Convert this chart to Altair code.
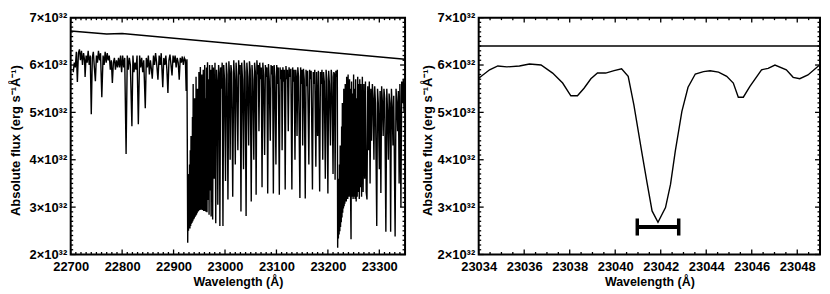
import altair as alt
import pandas as pd

# ---------------- data (flux in units of 1e32 erg s^-1 A^-1) ----------------
cont_left = [(22700, 6.72), (22770, 6.655), (22800, 6.666), (23350, 6.12)]

seg_pre_bandhead = [
    (22705, 5.85), (22707, 6.05), (22709, 5.95), (22711, 6.28), (22713, 5.64), (22715, 6.25),
    (22717, 6.33), (22719, 6.1), (22721, 6.3), (22723, 6.0), (22725, 6.25), (22727, 6.1),
    (22728, 5.75), (22730, 6.2), (22732, 6.05), (22734, 6.3), (22736, 6.0), (22738, 6.2),
    (22740, 4.96), (22742, 6.15), (22744, 6.28), (22746, 5.95), (22748, 5.66), (22750, 6.2),
    (22752, 6.05), (22754, 6.3), (22756, 6.1), (22758, 6.25), (22760.5, 5.32), (22763, 6.2),
    (22765, 6.0), (22767, 6.28), (22769, 6.05), (22771, 6.25), (22773, 6.1), (22775, 6.2),
    (22777, 5.9), (22779, 6.1), (22781, 5.62), (22783, 6.05), (22785, 6.15), (22787, 5.9),
    (22789, 6.1), (22791, 5.95), (22793, 6.15), (22795, 5.95), (22797, 6.2), (22799, 5.85),
    (22801, 6.2), (22803, 5.95), (22805, 6.15), (22807.7, 4.12), (22810, 6.2), (22812, 5.9),
    (22814, 6.15), (22816, 6.0), (22819, 4.71), (22821, 6.2), (22823, 5.85), (22825, 6.05),
    (22827, 5.9), (22829, 6.2), (22831.5, 4.75), (22834, 6.2), (22836, 5.95), (22838, 6.15),
    (22840, 5.85), (22842, 6.1), (22845, 5.09), (22847, 6.15), (22849, 5.95), (22851, 6.2),
    (22853, 5.8), (22855, 6.1), (22857, 5.9), (22858.6, 5.71), (22861, 6.2), (22863, 6.0),
    (22865, 6.25), (22867, 6.05), (22869.6, 5.69), (22872, 6.2), (22874, 6.0), (22876, 6.25),
    (22879, 5.53), (22881, 6.15), (22883, 6.0), (22885, 6.2), (22887, 5.9), (22889, 5.41),
    (22891, 6.1), (22893, 6.22), (22895, 6.0), (22897, 5.78), (22899, 6.2), (22901, 6.05),
    (22903, 6.2), (22905, 5.95), (22907, 6.15), (22909, 6.05), (22911, 5.69), (22913, 6.15),
    (22915, 6.05), (22917, 6.18), (22919, 6.0), (22921, 6.15), (22923, 6.1), (22924.5, 5.45),
    (22926, 6.12),
]

seg_band_one = [
    (22927.5, 2.25), (22928.3, 3.4), (22929, 2.5), (22929.7, 3.7), (22930.4, 2.55),
    (22931.1, 3.9), (22931.8, 2.55), (22932.5, 4.2), (22933.2, 2.6), (22933.9, 4.5),
    (22934.6, 2.65), (22935.3, 4.1), (22936, 2.67), (22936.7, 4.9), (22937.4, 2.7),
    (22938.1, 5.6), (22938.8, 2.74), (22939.5, 4.6), (22940.2, 2.76), (22940.9, 5.3),
    (22941.6, 2.79), (22942.3, 4.8), (22943, 2.82), (22943.7, 5.75), (22944.4, 2.84),
    (22945.1, 5.0), (22945.8, 2.87), (22946.5, 5.5), (22947.2, 2.9), (22947.9, 4.7),
    (22948.6, 2.92), (22949.3, 5.85), (22950, 2.94), (22950.7, 5.2), (22951.4, 2.94),
    (22952.1, 5.96), (22952.8, 2.95), (22953.5, 5.4), (22954.2, 2.95), (22954.9, 5.8),
    (22955.6, 2.94), (22956.3, 5.1), (22957, 2.94), (22957.7, 5.9), (22958.4, 2.92),
    (22959.1, 5.5), (22959.8, 2.93), (22960.5, 6.0), (22961.2, 2.92), (22962, 5.3),
    (22963, 2.9), (22964, 5.95), (22965, 2.89), (22966, 6.06), (22967, 3.15), (22968, 5.7),
    (22969, 2.84), (22970, 6.0), (22971, 3.35), (22972, 5.9), (22973, 2.8), (22974, 5.6),
    (22975, 6.0), (22976, 2.74), (22977.5, 5.95), (22979, 3.6), (22980.5, 6.05),
    (22982, 2.66), (22983.5, 5.9), (22985, 5.6), (22986, 3.05), (22987.5, 6.0), (22989, 5.8),
    (22990, 2.6), (22991.5, 5.95), (22993, 5.5), (22994.5, 6.05), (22996, 2.6),
    (22997.5, 6.0), (22999, 5.7), (23001, 3.55), (23002.5, 6.05), (23004, 5.8),
    (23005.7, 3.16), (23007.5, 6.08), (23009, 5.75), (23010, 4.0), (23011.5, 6.0),
    (23013, 5.85),
]

seg_line_forest = [
    (23015, 3.22), (23017, 6.1), (23018.5, 5.7), (23020, 3.9), (23021.5, 6.05), (23023, 5.75),
    (23025, 4.2), (23026.5, 6.1), (23028, 5.8), (23029.5, 6.0), (23031, 2.91), (23032.5, 6.05),
    (23034, 5.7), (23036, 3.8), (23037.5, 6.1), (23039, 5.85), (23041, 2.81), (23042.5, 6.05),
    (23044, 5.75), (23046, 4.3), (23047.5, 6.08), (23049, 5.9), (23051, 3.12), (23052.5, 6.0),
    (23054, 5.7), (23056, 4.0), (23057.5, 6.05), (23059, 5.85), (23060.5, 3.26), (23062, 6.1),
    (23063.5, 5.8), (23064.8, 6.0), (23066, 4.6), (23067.5, 6.05), (23069, 5.7), (23070.5, 5.95),
    (23072, 3.42), (23073.5, 6.05), (23075, 5.8), (23077, 4.1), (23078.5, 6.0), (23080, 5.75),
    (23081.5, 5.95), (23083, 3.29), (23084.5, 6.02), (23086, 5.7), (23088, 4.4), (23089.5, 6.0),
    (23091, 5.8), (23092.5, 5.98), (23094, 3.29), (23095.5, 6.0), (23097, 5.75), (23099, 3.9),
    (23100.5, 6.0), (23102, 5.6), (23103.5, 5.95), (23105.6, 3.26), (23107, 5.95),
    (23108.5, 5.7), (23110, 5.9), (23111, 4.2), (23112.5, 5.95), (23114, 5.65), (23115.5, 5.9),
    (23117, 3.37), (23118.5, 5.98), (23120, 5.7), (23121.5, 5.9), (23123, 4.6), (23124.5, 5.95),
    (23126, 5.75), (23128, 5.92), (23130, 3.37), (23131.5, 5.95), (23133, 5.65), (23134.5, 5.9),
    (23136, 4.0), (23137.5, 5.9), (23139, 5.7), (23140, 4.5), (23141.5, 5.95), (23143, 5.75),
    (23145.6, 3.19), (23147, 5.95), (23148.5, 5.6), (23150, 5.9), (23151, 4.3), (23152.5, 5.92),
    (23154, 5.7), (23156, 3.18), (23157.5, 5.9), (23159, 5.55), (23160.5, 5.88), (23163, 3.9),
    (23164.5, 5.9), (23166, 5.7), (23167.5, 5.88), (23170, 3.37), (23171.5, 5.85), (23173, 5.6),
    (23174.5, 5.9), (23176.6, 3.85), (23178, 5.85), (23180, 4.5), (23181.5, 5.88), (23184, 3.33),
    (23185.5, 5.85), (23187, 5.6), (23188.5, 5.9), (23190, 4.0), (23191.5, 5.85), (23193, 5.65),
    (23195, 3.6), (23196.5, 5.9), (23198, 5.7), (23200, 3.29), (23201.5, 5.88), (23203, 5.6),
    (23205, 4.3), (23206.5, 5.9), (23208, 5.75), (23210, 3.7), (23211.5, 5.85), (23213, 5.8),
    (23214, 3.58), (23215.5, 5.88), (23217, 5.75), (23218.3, 5.9),
]

seg_band_two = [
    (23219, 2.14), (23219.7, 3.3), (23220.4, 2.34), (23221.1, 3.6), (23221.8, 2.42),
    (23222.5, 3.9), (23223.2, 2.49), (23223.9, 4.3), (23224.6, 2.58), (23225.3, 4.0),
    (23226, 2.68), (23226.7, 4.7), (23227.4, 2.78), (23228.1, 5.2), (23228.8, 2.88),
    (23229.5, 4.5), (23230.2, 2.97), (23230.9, 5.5), (23231.6, 3.02), (23232.3, 4.8),
    (23233, 3.07), (23233.7, 5.6), (23234.4, 3.12), (23235.1, 5.0), (23235.8, 3.12),
    (23236.5, 5.75), (23237.2, 3.17), (23237.9, 5.2), (23238.6, 3.17), (23239.3, 5.8),
    (23240, 3.22), (23240.7, 5.3), (23241.4, 3.22), (23242.1, 5.7), (23242.8, 3.27),
    (23243.5, 5.5), (23244.2, 3.12), (23245, 2.32), (23246, 5.65), (23247, 3.22), (23248, 5.4),
    (23249, 3.17), (23250, 5.8), (23251, 3.22), (23252, 5.5), (23253, 3.17), (23254, 5.7),
    (23255, 3.12), (23256, 5.3), (23257, 3.22), (23258, 5.75), (23259, 3.32), (23260, 5.6),
    (23261, 3.17), (23262, 5.7), (23263, 3.42), (23264, 5.6), (23265.5, 3.22), (23267, 5.75),
    (23268.5, 3.32), (23270, 5.6), (23271.5, 3.6), (23273, 5.65), (23274.5, 3.32),
    (23276, 3.16), (23277.5, 5.55), (23279, 4.2), (23280.5, 5.65), (23282, 3.5),
    (23283.5, 5.5), (23285, 4.4), (23286.5, 5.6), (23288, 5.3), (23289.5, 4.0), (23291, 5.55),
    (23292.5, 5.2), (23295, 2.6), (23296.5, 5.5), (23298, 5.2), (23300, 3.8), (23301.5, 5.45),
    (23303, 3.3), (23304.5, 5.55), (23306, 5.2), (23307.5, 4.5), (23309, 5.5), (23310.5, 5.3),
    (23312.7, 2.48), (23314.5, 5.5), (23316, 5.0), (23317.5, 4.0), (23319, 5.4), (23320.5, 5.2),
    (23322, 2.48), (23323.5, 5.5), (23325, 5.1), (23326.5, 4.3), (23328, 5.35), (23330.7, 2.38),
    (23332.5, 5.5), (23334, 5.2), (23335.5, 4.6), (23337, 5.45), (23338.5, 3.5), (23340, 5.6),
    (23342, 3.0), (23343.5, 5.65), (23345, 5.2), (23346.5, 5.7), (23348, 5.0), (23349, 5.6),
    (23351, 5.5),
]

# right panel (zoom on one line)
cont_right = [(23034, 6.40), (23049, 6.40)]
spec_right = [
    (23034.0, 5.72), (23034.48, 5.90), (23034.84, 5.98), (23035.24, 5.96), (23035.79, 5.98),
    (23036.23, 6.02), (23036.74, 6.00), (23037.25, 5.83), (23037.69, 5.62), (23038.05, 5.35),
    (23038.34, 5.35), (23038.63, 5.51), (23038.93, 5.71), (23039.22, 5.83), (23039.58, 5.83),
    (23039.95, 5.88), (23040.28, 5.92), (23040.57, 5.76), (23040.82, 5.16), (23041.16, 4.18),
    (23041.40, 3.51), (23041.62, 2.92), (23041.88, 2.68), (23042.21, 2.99), (23042.43, 3.48),
    (23042.64, 4.18), (23042.93, 5.02), (23043.20, 5.53), (23043.52, 5.81), (23043.88, 5.86),
    (23044.17, 5.88), (23044.54, 5.85), (23044.90, 5.76), (23045.19, 5.62), (23045.41, 5.32),
    (23045.63, 5.32), (23045.92, 5.55), (23046.43, 5.90), (23046.72, 5.93), (23047.02, 6.00),
    (23047.52, 5.90), (23047.82, 5.74), (23048.11, 5.71), (23048.47, 5.79), (23048.98, 6.00),
    (23049.2, 6.05),
]
errbar_center = 23041.88
errbar_halfwidth = 0.91
errbar_flux = 2.58
errbar_cap_half = 0.18

# tick values
left_x_major = [22700, 22800, 22900, 23000, 23100, 23200, 23300]
left_x_minor = [22700 + 10 * i for i in range(66) if i % 10 != 0]
right_x_major = [23034, 23036, 23038, 23040, 23042, 23044, 23046, 23048]
right_x_minor = [23034 + 0.5 * i for i in range(31) if i % 4 != 0]
y_major = [2, 3, 4, 5, 6, 7]
y_minor = [round(2 + 0.1 * i, 2) for i in range(51) if i % 10 != 0]

H = 238
W_LEFT = 336
W_RIGHT = 343
FONT = "Liberation Sans"
MAJ, MIN = 5, 2.5


def make_panel(xdomain, W, xmaj, xmin, segments, cont, title_x):
    xscale = alt.Scale(domain=xdomain, nice=False, zero=False)
    yscale = alt.Scale(domain=[2, 7], nice=False, zero=False)
    xaxis = alt.Axis(values=xmaj, ticks=False, tickSize=0, domain=False, grid=False,
                     format="d", labelFont=FONT, labelFontSize=13, labelFontWeight="bold",
                     labelColor="black", labelPadding=6, labelFlush=False,
                     title="Wavelength (Å)", titleFont=FONT, titleFontSize=12.5,
                     titleFontWeight="bold", titleColor="black", titlePadding=2)
    yaxis = alt.Axis(values=y_major, ticks=False, tickSize=0, domain=False, grid=False,
                     labelExpr="datum.value + '×10³²'", labelFont=FONT, labelFontSize=13,
                     labelFontWeight="bold", labelColor="black", labelPadding=4,
                     labelFlush=False,
                     title="Absolute flux (erg s⁻¹Å⁻¹)", titleFont=FONT, titleFontSize=13,
                     titleFontWeight="bold", titleColor="black", titleX=title_x,
                     titleY=H / 2 + 4)

    def X(f):
        return alt.X(f, type="quantitative", scale=xscale, axis=xaxis)

    def Y(f):
        return alt.Y(f, type="quantitative", scale=yscale, axis=yaxis)

    layers = []
    cdf = pd.DataFrame(cont, columns=["wave", "flux"])
    layers.append(alt.Chart(cdf).mark_line(color="black", strokeWidth=1.5, clip=True)
                  .encode(x=X("wave"), y=Y("flux")))
    rows = []
    for seg in segments:
        rows.extend(seg)
    sdf = pd.DataFrame(rows, columns=["wave", "flux"])
    sdf["order"] = range(len(sdf))
    layers.append(alt.Chart(sdf).mark_line(color="black", strokeWidth=1.4, clip=True)
                  .encode(x=X("wave"), y=Y("flux"), order="order:Q"))

    for vals, ln in ((xmaj, MAJ), (xmin, MIN)):
        tdf = pd.DataFrame({"v": vals})
        base = alt.Chart(tdf).mark_rule(color="black", strokeWidth=1.3)
        layers.append(base.encode(x=X("v"), y=alt.value(H), y2=alt.value(H - ln)))
        layers.append(base.encode(x=X("v"), y=alt.value(0), y2=alt.value(ln)))
    for vals, ln in ((y_major, MAJ), (y_minor, MIN)):
        tdf = pd.DataFrame({"v": vals})
        base = alt.Chart(tdf).mark_rule(color="black", strokeWidth=1.3)
        layers.append(base.encode(y=Y("v"), x=alt.value(0), x2=alt.value(ln)))
        layers.append(base.encode(y=Y("v"), x=alt.value(W), x2=alt.value(W - ln)))
    return layers, X, Y


left_layers, _, _ = make_panel([22700, 23350], W_LEFT, left_x_major, left_x_minor,
                               [seg_pre_bandhead, seg_band_one, seg_line_forest, seg_band_two],
                               cont_left, -48)
left = alt.layer(*left_layers).properties(width=W_LEFT, height=H)

right_layers, XR, YR = make_panel([23034, 23049], W_RIGHT, right_x_major, right_x_minor,
                                  [spec_right], cont_right, -44)
eb = pd.DataFrame({"lo": [errbar_center - errbar_halfwidth],
                   "hi": [errbar_center + errbar_halfwidth],
                   "f": [errbar_flux]})
caps = pd.DataFrame({"x": [errbar_center - errbar_halfwidth, errbar_center + errbar_halfwidth],
                     "y1": [errbar_flux - errbar_cap_half] * 2,
                     "y2": [errbar_flux + errbar_cap_half] * 2})
right_layers.append(alt.Chart(eb).mark_rule(color="black", strokeWidth=4)
                    .encode(x=XR("lo"), x2="hi:Q", y=YR("f")))
right_layers.append(alt.Chart(caps).mark_rule(color="black", strokeWidth=3.5)
                    .encode(x=XR("x"), y=YR("y1"), y2="y2:Q"))
right = alt.layer(*right_layers).properties(width=W_RIGHT, height=H)

chart = (alt.hconcat(left, right, spacing=13)
         .properties(padding={"left": 0, "top": 2, "right": 0, "bottom": 0},
                     background="white")
         .configure_view(stroke="black", strokeWidth=2))

chart.save("out.html", embed_options={"renderer": "svg", "actions": False})
